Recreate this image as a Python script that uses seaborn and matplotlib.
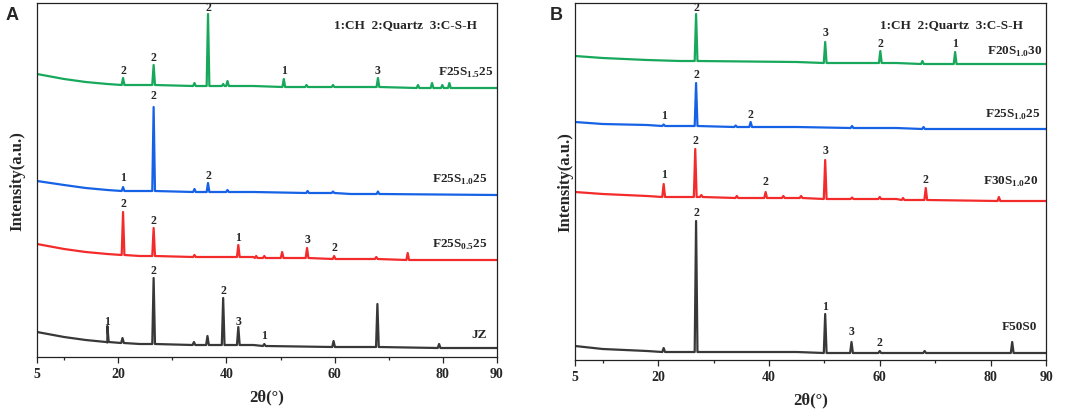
import numpy as np
import pandas as pd
import seaborn as sns
import matplotlib.pyplot as plt
from matplotlib.ticker import FixedLocator

# ---- data (intensity in arbitrary units) ----
# baselines: (2theta, intensity); peaks: (2theta, base, top)
baseX = [5, 10, 14, 18, 24, 45, 63, 90]

A_samples = ['F25S1.5', 'F25S1.0', 'F25S0.5', 'JZ']
A_base = {
    'F25S1.5': [283, 278, 275, 273, 272, 271, 270, 269],
    'F25S1.0': [176, 172, 169, 167, 166, 165, 163, 162],
    'F25S0.5': [113, 108, 105, 103, 101, 100, 98, 97],
    'JZ': [25, 20, 17, 14.5, 13, 12, 10, 9],
}
A_peaks = {
    'F25S1.5': [(20.9, 272, 279), (26.55, 272, 292), (34.1, 271, 274), (36.6, 271, 343),
                (39.4, 271, 273), (40.2, 271, 276), (50.6, 270, 278), (54.8, 270, 272),
                (59.7, 270, 272), (68.0, 270, 279), (75.4, 269, 272), (78.0, 269, 274),
                (79.9, 269, 272), (81.2, 269, 274)],
    'F25S1.0': [(20.9, 166, 170), (26.55, 166, 250), (34.1, 165, 168), (36.6, 165, 174),
                (40.2, 165, 167), (55.0, 164, 166), (59.7, 164, 165.5), (68.0, 163, 165.5)],
    'F25S0.5': [(20.9, 102, 145), (26.55, 101, 129), (34.1, 100, 102), (42.2, 100, 112),
                (45.5, 99, 101), (47.0, 99, 101), (50.3, 99, 105), (54.9, 99, 109),
                (59.9, 98, 101), (67.7, 98, 100), (73.5, 97, 104)],
    'JZ': [(18.0, 15, 31), (20.8, 14, 19), (26.55, 13, 79), (34.0, 12, 15), (36.5, 12, 21),
           (39.4, 12, 59), (42.2, 12, 30), (47.0, 11, 13), (59.8, 10, 16), (67.9, 10, 53),
           (79.3, 9, 13)],
}
A_marks = [('2', 20.9, 287), ('2', 26.55, 300), ('2', 36.6, 350), ('1', 50.6, 287), ('3', 68.0, 287),
           ('1', 20.9, 180), ('2', 26.55, 262), ('2', 36.6, 182),
           ('2', 20.9, 154), ('2', 26.55, 137), ('1', 42.2, 120), ('3', 54.9, 118), ('2', 59.9, 110),
           ('1', 18.0, 36), ('2', 26.55, 87), ('2', 39.4, 67), ('3', 42.2, 36), ('1', 47.0, 22)]
A_names = [('F25S$_{\\mathbf{1.5}}$25', 89.3, 285), ('F25S$_{\\mathbf{1.0}}$25', 88.2, 178),
           ('F25S$_{\\mathbf{0.5}}$25', 88.2, 113), ('JZ', 88.2, 23)]

B_samples = ['F20S1.0', 'F25S1.0', 'F30S1.0', 'F50S0']
B_base = {
    'F20S1.0': [304, 302, 301, 300, 299, 298, 297, 296],
    'F25S1.0': [238, 236, 235.5, 235, 234, 233, 232, 231],
    'F30S1.0': [168, 166, 165, 164, 163, 162, 161, 159],
    'F50S0': [14, 11, 10, 9, 8, 8, 7, 7],
}
B_peaks = {
    'F20S1.0': [(26.85, 299, 346), (50.15, 297, 318), (60.1, 297, 309), (67.7, 296, 299),
                (73.6, 296, 308)],
    'F25S1.0': [(21.0, 234, 235.5), (26.85, 234, 277), (34.0, 233, 234.5), (36.7, 233, 238),
                (55.0, 232, 234), (67.9, 231, 233)],
    'F30S1.0': [(21.0, 163, 176), (26.7, 163, 211), (27.8, 163, 165), (34.2, 162, 164),
                (39.4, 162, 168), (42.6, 162, 164), (45.8, 162, 164), (50.15, 161, 200),
                (55.0, 161, 162.5), (60.0, 161, 163), (64.2, 160, 162), (68.3, 160, 172),
                (81.5, 159, 163)],
    'F50S0': [(21.0, 8, 12), (26.85, 8, 139), (50.15, 7, 46), (54.9, 7, 18), (60.0, 7, 9),
              (68.1, 7, 9), (83.9, 7, 18)],
}
B_marks = [('2', 26.85, 353), ('3', 50.15, 328), ('2', 60.1, 317), ('1', 73.6, 317),
           ('1', 21.0, 245), ('2', 26.85, 286), ('2', 36.7, 246),
           ('1', 21.0, 186), ('2', 26.7, 220), ('2', 39.4, 179), ('3', 50.15, 210), ('2', 68.3, 181),
           ('2', 26.85, 148), ('1', 50.15, 54), ('3', 54.9, 29), ('2', 60.0, 18)]
B_names = [('F20S$_{\\mathbf{1.0}}$30', 89.3, 309), ('F25S$_{\\mathbf{1.0}}$25', 89.1, 246),
           ('F30S$_{\\mathbf{1.0}}$20', 88.6, 179), ('F50S0', 88.4, 34)]

colors = ['#17a85c', '#1662e6', '#f42b2b', '#383838']
legendText = '1:CH  2:Quartz  3:C-S-H'

sns.set_style('ticks')
plt.rcParams['font.family'] = ['Liberation Serif', 'DejaVu Serif']
plt.rcParams['font.weight'] = 'bold'
plt.rcParams['mathtext.fontset'] = 'custom'
plt.rcParams['mathtext.rm'] = 'Liberation Serif:bold'
plt.rcParams['mathtext.bf'] = 'Liberation Serif:bold'

halfWidth = 0.25  # drawing width of a peak spike


def traceFrame(samples, base, peaks):
    rows = []
    for s in samples:
        pts = list(zip(baseX, base[s]))
        for x, b, t in peaks[s]:
            pts += [(x - halfWidth, b), (x, t), (x + halfWidth, b)]
        pts.sort()
        for x, y in pts:
            rows.append({'theta': x, 'intensity': y, 'sample': s})
    return pd.DataFrame(rows)


def drawPanel(ax, samples, base, peaks, marks, names, ytop, ypad):
    df = traceFrame(samples, base, peaks)
    sns.lineplot(data=df, x='theta', y='intensity', hue='sample', hue_order=samples,
                 palette=colors, estimator=None, sort=False, linewidth=1.6,
                 legend=False, ax=ax)
    for t, x, y in marks:
        ax.text(x, y, t, ha='center', va='center', fontsize=8.5, fontweight='bold')
    for t, x, y in names:
        ax.text(x, y, t, ha='right', va='center', fontsize=9.5, fontweight='bold')
    ax.text(73.0, ytop - 21, legendText, ha='center', va='center', fontsize=9.5, fontweight='bold')
    ax.set_xlim(5, 90)
    ax.set_ylim(0, ytop)
    ax.xaxis.set_major_locator(FixedLocator([5, 20, 40, 60, 80, 90]))
    ax.xaxis.set_minor_locator(FixedLocator([10, 30, 50, 70]))
    ax.tick_params(axis='x', which='major', direction='out', length=4, width=0.9, labelsize=10)
    ax.tick_params(axis='x', which='minor', direction='out', length=2.5, width=0.9)
    ax.set_yticks([])
    for sp in ax.spines.values():
        sp.set_visible(True)
        sp.set_linewidth(0.9)
        sp.set_color('#222222')
    for lab in ax.get_xticklabels():
        lab.set_fontweight('bold')
    ax.set_xlabel('2θ(°)', fontsize=12, fontweight='bold', labelpad=6)
    ax.set_ylabel('Intensity(a.u.)', fontsize=12, fontweight='bold', labelpad=ypad)


fig = plt.figure(figsize=(10.72, 4.14), dpi=100)
axA = fig.add_axes([37 / 1072, 1 - 358 / 414, 460 / 1072, 354 / 414])
axB = fig.add_axes([575 / 1072, 1 - 361 / 414, 471 / 1072, 357 / 414])

drawPanel(axA, A_samples, A_base, A_peaks, A_marks, A_names, 354, 8)
drawPanel(axB, B_samples, B_base, B_peaks, B_marks, B_names, 357, 1)

fig.text(12 / 1072, 1 - 16 / 414, 'A', ha='center', va='center', fontsize=13,
         fontweight='bold', family=['Liberation Sans', 'DejaVu Sans'])
fig.text(556 / 1072, 1 - 16 / 414, 'B', ha='center', va='center', fontsize=13,
         fontweight='bold', family=['Liberation Sans', 'DejaVu Sans'])

fig.savefig('out.png', dpi=100)
